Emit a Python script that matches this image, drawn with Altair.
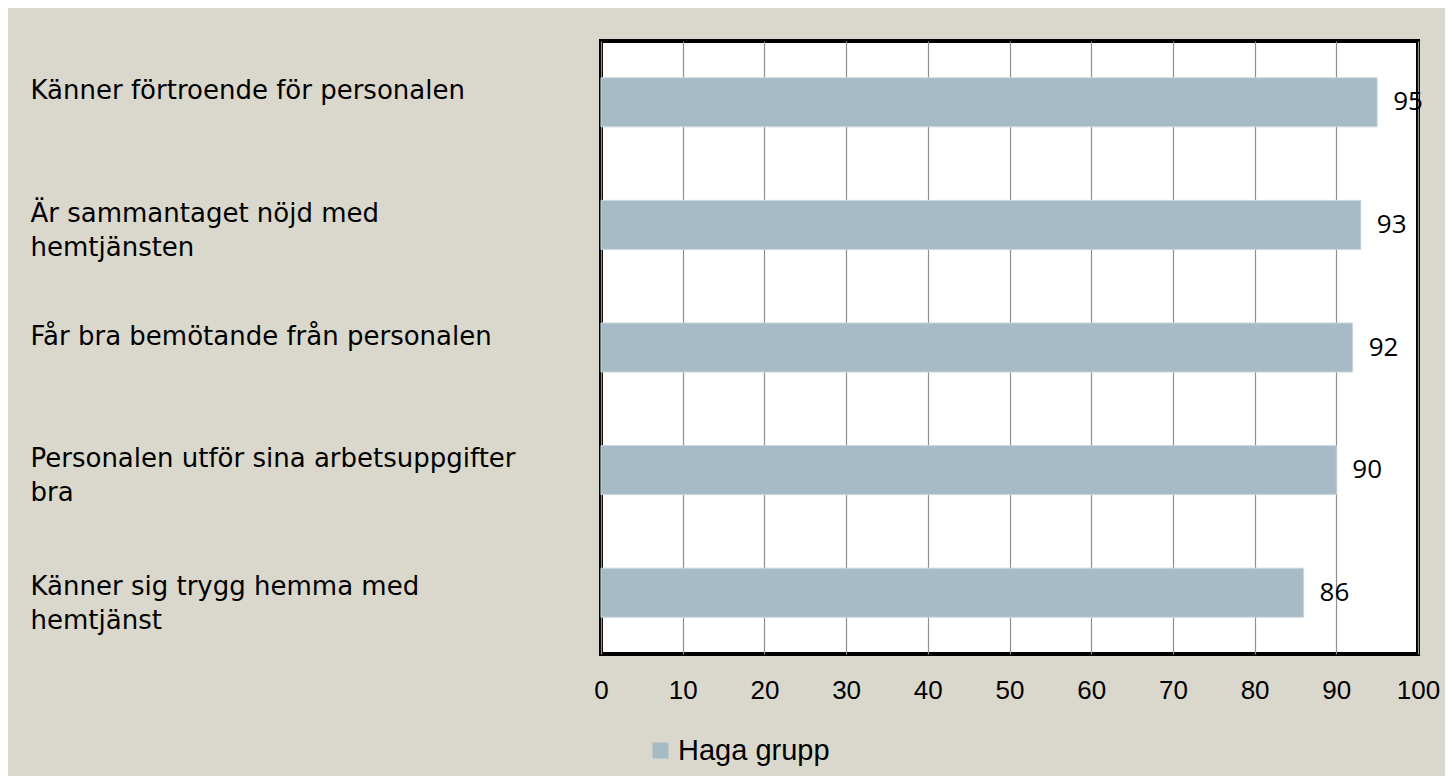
import altair as alt
import pandas as pd

categories = [
    "Känner förtroende för personalen",
    "Är sammantaget nöjd med|hemtjänsten",
    "Får bra bemötande från personalen",
    "Personalen utför sina arbetsuppgifter|bra",
    "Känner sig trygg hemma med|hemtjänst",
]
values = [95, 93, 92, 90, 86]
series = "Haga grupp"
x_ticks = [0, 10, 20, 30, 40, 50, 60, 70, 80, 90, 100]

df = pd.DataFrame({"label": categories, "value": values, "series": [series] * len(values)})

BAR = "#A7BBC6"
BG = "#DAD8CC"
CAT_FONT = "DejaVu Sans"
VAL_FONT = "Open Sans"
NUM_FONT = "Liberation Sans"

y_enc = alt.Y(
    "label:N",
    sort=None,
    scale=alt.Scale(paddingInner=0.6, paddingOuter=0.3),
    axis=alt.Axis(
        title=None,
        domain=False,
        ticks=False,
        tickSize=0,
        grid=False,
        labelAlign="left",
        labelBaseline="top",
        labelPadding=571,
        labelExpr="split(datum.label, '|')",
        labelFont=CAT_FONT,
        labelFontSize=26,
        labelLineHeight=34,
        labelColor="#000000",
        labelLimit=600,
        labelOffset=alt.condition(
            "indexof(datum.label, 'trygg') >= 0", alt.value(-19), alt.value(-24)
        ),
    ),
)

x_enc = alt.X(
    "value:Q",
    scale=alt.Scale(domain=[0, 100], nice=False),
    axis=alt.Axis(
        title=None,
        values=x_ticks,
        domain=False,
        ticks=False,
        tickSize=0,
        grid=True,
        gridColor="#8F8F8F",
        gridWidth=1.2,
        labelFont=NUM_FONT,
        labelFontSize=26,
        labelPadding=23,
        labelColor="#000000",
        labelFlush=False,
    ),
)

bars = alt.Chart(df).mark_bar(stroke="#C9D6DD", strokeWidth=1).encode(
    y=y_enc,
    x=x_enc,
    color=alt.Color(
        "series:N",
        scale=alt.Scale(range=[BAR]),
        legend=alt.Legend(
            title=None,
            orient="none",
            legendX=45,
            legendY=695,
            symbolType="square",
            symbolSize=256,
            symbolStrokeWidth=0,
            padding=0,
            labelFont=NUM_FONT,
            labelFontSize=29,
            labelColor="#000000",
            labelOffset=3,
        ),
    ),
)

text = alt.Chart(df).mark_text(
    align="left", baseline="middle", dx=16, font=VAL_FONT, fontSize=26, color="#000000"
).encode(
    y=alt.Y("label:N", sort=None),
    x=alt.X("value:Q"),
    text=alt.Text("value:Q"),
)

chart = (
    alt.layer(bars, text)
    .properties(
        width=817,
        height=613,
        background=BG,
        autosize=alt.AutoSizeParams(type="none"),
        padding={"left": 593, "top": 33, "right": 27, "bottom": 122},
    )
    .configure_view(fill="white", stroke="black", strokeWidth=4)
)

chart.save("out.html", embed_options={"renderer": "svg", "actions": False})
